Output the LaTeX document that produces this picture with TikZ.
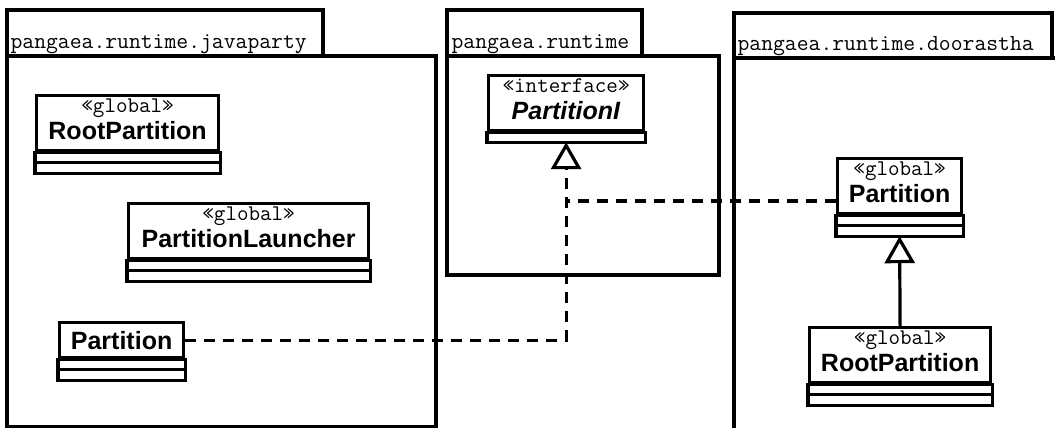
\documentclass[tikz,border=0pt]{standalone}
\usepackage{fontspec}
\newfontfamily\umlsans{Liberation Sans}
\usetikzlibrary{arrows.meta,calc}

\newcommand{\stereo}[1]{{\ttfamily\mdseries\upshape\fontsize{22.4}{27}\selectfont «#1»}}

\begin{document}
\begin{tikzpicture}[x=1pt,y=-1pt,line width=3.2pt,
    pkgname/.style={anchor=base west,inner sep=0pt,font=\ttfamily\fontsize{23}{26}\selectfont},
    umlclass/.style={draw,anchor=north west,inner sep=0pt,minimum height=55pt,text depth=8pt,
      align=center,font=\umlsans\bfseries\fontsize{25}{27}\selectfont},
    plainclass/.style={umlclass,minimum height=35pt,text depth=0pt},
    dep/.style={dash pattern=on 11pt off 8pt},
    realize/.style={dep,-{Triangle[open,length=27pt,width=30pt]}},
    inherit/.style={-{Triangle[open,length=27pt,width=30pt]}}]

  \useasboundingbox (0,0) rectangle (1055,428);

  % packages
  \draw (7,10) rectangle (323,56);
  \draw (7,56) rectangle (436,427);
  \node[pkgname] (jp) at (9,49) {pangaea.runtime.javaparty};

  \draw (447,10) rectangle (642,56);
  \draw (447,56) rectangle (719,275);
  \node[pkgname] (rt) at (450,49) {pangaea.runtime};

  \draw (734,13) rectangle (1052,58);
  \draw (1062,58) -- (734,58) -- (734,440);
  \node[pkgname] (dr) at (736,51) {pangaea.runtime.doorastha};

  % classes
  \node[umlclass,minimum width=182pt] (jroot) at (35,94) {\stereo{global}\\RootPartition};
  \node[umlclass,minimum width=240pt] (launcher) at (127,202) {\stereo{global}\\PartitionLauncher};
  \node[plainclass,minimum width=124pt] (jpart) at (58,321) {Partition};
  \node[umlclass,minimum width=155pt] (iface) at (487,74) {\stereo{interface}\\\textit{PartitionI}};
  \node[umlclass,minimum width=124pt] (rpart) at (836,157) {\stereo{global}\\Partition};
  \node[umlclass,minimum width=181pt] (rroot) at (808,326) {\stereo{global}\\RootPartition};

  \foreach \c in {jroot,launcher,jpart,rpart,rroot}
    \draw (\c.south west) rectangle ($(\c.south east)+(0,21)$)
          ($(\c.south west)+(0,10.5)$) -- ($(\c.south east)+(0,10.5)$);
  \draw (iface.south west) rectangle ($(iface.south east)+(0,10)$);

  \coordinate (ibot) at ($(iface.south)+(0,10)$);
  \coordinate (rjoin) at (ibot |- 0,201);
  \coordinate (rpbot) at ($(rpart.south)+(0,21)$);

  % realization and generalization
  \draw[realize] (jpart.east) -| (ibot);
  \draw[dep] (rpart.west |- rjoin) -- (rjoin);
  \draw[inherit] (rroot.north) -- (rpbot);
\end{tikzpicture}
\end{document}
